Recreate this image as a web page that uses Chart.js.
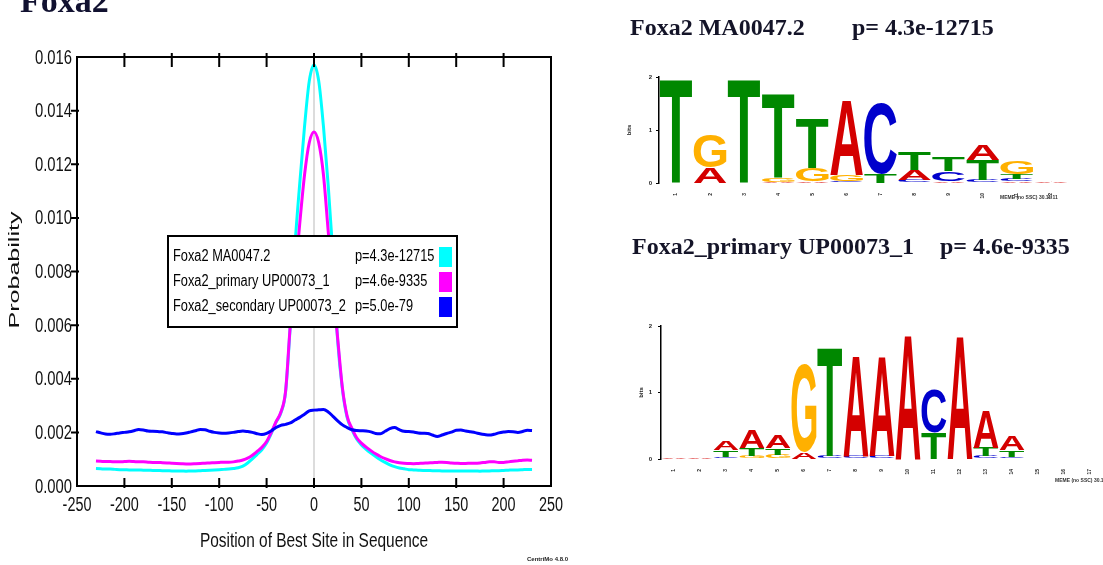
<!DOCTYPE html>
<html>
<head>
<meta charset="utf-8">
<title>Foxa2 - CentriMo site distribution</title>
<script src="https://cdn.jsdelivr.net/npm/chart.js@4.4.1/dist/chart.umd.min.js"></script>
<style>
  html, body { margin: 0; padding: 0; background: #fff; }
  body { width: 1103px; height: 565px; position: relative; overflow: hidden; }
  canvas { position: absolute; }
</style>
</head>
<body>
<canvas id="siteChart" width="600" height="565" style="left:0;top:0"></canvas>
<canvas id="logoJaspar" width="503" height="215" style="left:600px;top:0"></canvas>
<canvas id="logoUniprobe" width="503" height="290" style="left:600px;top:215px"></canvas>
<script>
// --- site probability curves (position of best site vs probability) ---
const positions = [-230,-225,-220,-215,-210,-205,-200,-195,-190,-185,-180,-175,-170,-165,-160,-155,-150,-145,-140,-135,-130,-125,-120,-115,-110,-105,-100,-95,-90,-85,-80,-75,
  -70,-65,-60,-55,-50,-45,-40,-35,-30,-25,-20,-15,-10,-5,0,5,10,15,20,25,30,35,40,45,50,55,60,65,70,75,80,85,90,95,100,
  105,110,115,120,125,130,135,140,145,150,155,160,165,170,175,180,185,190,195,200,205,210,215,220,225,230];

const ma0047 = [0.00065,0.00064,0.00063,0.00063,0.00062,0.00061,0.00061,0.00060,0.00060,0.00060,0.00059,0.00059,0.00058,0.00058,0.00057,0.00057,0.00056,0.00056,0.00056,0.00055,0.00056,0.00056,0.00057,0.00058,0.00059,0.00060,0.00061,0.00062,0.00063,0.00065,0.00068,0.00074,
  0.00086,0.00101,0.00118,0.00135,0.00160,0.00196,0.00238,0.00272,0.00350,0.00600,0.00900,0.01130,0.01340,0.01510,
  0.01570,
  0.01510,0.01340,0.01120,0.00860,0.00540,0.00360,0.00255,0.00210,0.00175,0.00153,0.00137,0.00123,0.00110,0.00098,0.00088,0.00079,0.00072,0.00067,0.00064,0.00061,
  0.00060,0.00059,0.00058,0.00058,0.00057,0.00057,0.00056,0.00056,0.00056,0.00056,0.00056,0.00056,0.00056,0.00056,0.00055,0.00056,0.00056,0.00057,0.00057,0.00058,0.00059,0.00060,0.00060,0.00061,0.00062,0.00062];

const up00073_1 = [0.00093,0.00092,0.00091,0.00091,0.00090,0.00090,0.00091,0.00092,0.00091,0.00090,0.00090,0.00089,0.00088,0.00088,0.00087,0.00086,0.00085,0.00084,0.00083,0.00082,0.00082,0.00083,0.00084,0.00085,0.00086,0.00087,0.00088,0.00089,0.00089,0.00090,0.00093,0.00097,
  0.00104,0.00115,0.00129,0.00144,0.00166,0.00200,0.00240,0.00275,0.00353,0.00600,0.00780,0.00980,0.01160,0.01280,
  0.01320,
  0.01280,0.01160,0.00950,0.00740,0.00550,0.00365,0.00260,0.00215,0.00180,0.00160,0.00145,0.00132,0.00120,0.00110,0.00102,0.00095,0.00090,0.00087,0.00085,0.00084,
  0.00083,0.00084,0.00085,0.00086,0.00087,0.00088,0.00089,0.00088,0.00086,0.00085,0.00084,0.00084,0.00085,0.00085,0.00086,0.00088,0.00090,0.00090,0.00088,0.00088,0.00090,0.00092,0.00094,0.00096,0.00097,0.00096];

const up00073_2 = [0.00203,0.00198,0.00194,0.00193,0.00195,0.00198,0.00200,0.00202,0.00206,0.00211,0.00209,0.00205,0.00204,0.00203,0.00202,0.00199,0.00196,0.00194,0.00195,0.00198,0.00202,0.00206,0.00211,0.00210,0.00204,0.00200,0.00198,0.00197,0.00198,0.00200,0.00203,0.00205,
  0.00203,0.00200,0.00195,0.00192,0.00196,0.00206,0.00218,0.00226,0.00230,0.00235,0.00246,0.00256,0.00268,0.00280,
  0.00283,
  0.00284,0.00285,0.00276,0.00260,0.00243,0.00228,0.00218,0.00210,0.00207,0.00206,0.00205,0.00202,0.00196,0.00195,0.00204,0.00214,0.00218,0.00210,0.00204,0.00203,
  0.00201,0.00198,0.00197,0.00196,0.00190,0.00185,0.00190,0.00196,0.00201,0.00208,0.00209,0.00205,0.00202,0.00199,0.00195,0.00192,0.00190,0.00193,0.00198,0.00201,0.00203,0.00202,0.00200,0.00203,0.00208,0.00207];

const seriesNames = ['Foxa2 MA0047.2', 'Foxa2_primary UP00073_1', 'Foxa2_secondary UP00073_2'];
const seriesPvals = ['p=4.3e-12715', 'p=4.6e-9335', 'p=5.0e-79'];
const seriesColors = ['#00ffff', '#ff00ff', '#0000ff'];
const xTickMarks = [-200, -150, -100, -50, 0, 50, 100, 150, 200];
const yTickMarks = [0.002, 0.004, 0.006, 0.008, 0.010, 0.012, 0.014];

// --- sequence logos: letters listed bottom -> top, with their heights in bits ---
const jasparPos = ['1','2','3','4','5','6','7','8','9','10','11','12'];
const jasparLetters = ['T','AG','T','AGT','AGT','CGA','TC','CAT','ACT','CTA','ACTG','A'];
const jasparBits = [[1.98],[0.30,0.63],[1.98],[0.02,0.07,1.60],[0.03,0.25,0.94],[0.03,0.12,1.42],[0.17,1.33],[0.05,0.19,0.35],[0.04,0.18,0.26],[0.05,0.38,0.28],[0.04,0.04,0.09,0.25],[0.02]];

const uniprobePos = ['1','2','3','4','5','6','7','8','9','10','11','12','13','14','15','16','17'];
const uniprobeLetters = ['A','A','CTA','GTA','GTA','AG','CT','CA','CA','A','TC','A','CTA','CTA','','',''];
const uniprobeBits = [[0.03],[0.03],[0.03,0.10,0.14],[0.04,0.12,0.27],[0.06,0.10,0.20],[0.10,1.32],[0.05,1.65],[0.05,1.52],[0.05,1.50],[1.89],[0.39,0.65],[1.87],[0.04,0.13,0.57],[0.03,0.10,0.21],[],[],[]];

const SANS = "'Liberation Sans', Arial, sans-serif";
const SERIF = "'Liberation Serif', 'Times New Roman', serif";
const letterColors = { A: '#d40000', C: '#0000cc', G: '#ffb000', T: '#008800' };

Chart.defaults.animation = false;
Chart.defaults.color = '#000';

// no narrow face installed, so squeeze Liberation Sans horizontally
function squeezeText(ctx, text, x, y, size, sx, align, baseline) {
  ctx.save();
  ctx.font = size + 'px ' + SANS;
  ctx.textAlign = align;
  ctx.textBaseline = baseline;
  ctx.translate(x, y);
  ctx.scale(sx, 1);
  ctx.fillText(text, 0, 0);
  ctx.restore();
}

// frame, inner ticks, tick labels, centre line, legend box and loose texts of the left panel
const sitePanel = {
  id: 'sitePanel',
  beforeDatasetsDraw(chart) {
    const { ctx, chartArea: a, scales: { x } } = chart;
    const x0 = x.getPixelForValue(0);
    ctx.save();
    ctx.strokeStyle = '#d0d0d0';
    ctx.lineWidth = 1.5;
    ctx.beginPath(); ctx.moveTo(x0, a.top); ctx.lineTo(x0, a.bottom); ctx.stroke();
    ctx.restore();
  },
  afterDatasetsDraw(chart) {
    const { ctx, chartArea: a, scales: { x, y } } = chart;
    ctx.save();
    ctx.strokeStyle = '#000';
    ctx.lineWidth = 2;
    ctx.strokeRect(a.left, a.top, a.right - a.left, a.bottom - a.top);
    ctx.beginPath();
    xTickMarks.forEach(v => {
      const px = x.getPixelForValue(v);
      ctx.moveTo(px, a.bottom + 2); ctx.lineTo(px, a.bottom - 8);
      ctx.moveTo(px, a.top - 4); ctx.lineTo(px, a.top + 10);
    });
    yTickMarks.forEach(v => {
      const py = y.getPixelForValue(v);
      ctx.moveTo(a.left - 6, py); ctx.lineTo(a.left + 2, py);
    });
    ctx.stroke();
    ctx.fillStyle = '#111';
    x.ticks.forEach((t, i) => squeezeText(ctx, String(t.value), x.getPixelForTick(i), a.bottom + 19, 20, 0.72, 'center', 'middle'));
    y.ticks.forEach((t, i) => squeezeText(ctx, t.value.toFixed(3), a.left - 5, y.getPixelForTick(i) + 1, 20, 0.74, 'right', 'middle'));
    squeezeText(ctx, 'Position of Best Site in Sequence', (a.left + a.right) / 2, 547, 21, 0.735, 'center', 'alphabetic');

    // legend
    ctx.fillStyle = '#fff';
    ctx.fillRect(168, 236, 289, 91);
    ctx.strokeRect(168, 236, 289, 91);
    seriesNames.forEach((name, i) => {
      const ry = 257 + 25 * i;
      ctx.fillStyle = '#000';
      squeezeText(ctx, name, 173, ry, 16, 0.8, 'left', 'middle');
      squeezeText(ctx, seriesPvals[i], 355, ry, 16, 0.8, 'left', 'middle');
      ctx.fillStyle = seriesColors[i];
      ctx.fillRect(439, ry - 10, 13, 20);
    });

    // y title, stretched along the axis like the original
    ctx.fillStyle = '#111';
    ctx.translate(19, 270);
    ctx.rotate(-Math.PI / 2);
    ctx.font = '14px ' + SANS;
    ctx.textAlign = 'center';
    const w = ctx.measureText('Probability').width;
    ctx.scale(117 / w, 1);
    ctx.fillText('Probability', 0, 0);
    ctx.restore();

    ctx.save();
    ctx.fillStyle = '#222';
    ctx.font = 'bold 6px ' + SANS;
    ctx.fillText('CentriMo 4.8.0', 527, 561);
    ctx.fillStyle = '#111130';
    ctx.font = 'bold 34px ' + SERIF;
    ctx.fillText('Foxa2', 20, 12);
    ctx.restore();
  }
};

new Chart(document.getElementById('siteChart'), {
  type: 'line',
  data: {
    datasets: [ma0047, up00073_1, up00073_2].map((vals, i) => ({
      label: seriesNames[i],
      data: positions.map((p, j) => ({ x: p, y: vals[j] })),
      borderColor: seriesColors[i],
      borderWidth: 3,
      pointRadius: 0,
      cubicInterpolationMode: 'monotone',
      order: 3 - i
    }))
  },
  options: {
    responsive: false,
    layout: { padding: { top: 57, right: 49, left: 0, bottom: 0 } },
    plugins: { legend: { display: false }, tooltip: { enabled: false } },
    scales: {
      x: {
        type: 'linear', min: -250, max: 250,
        ticks: { display: false, stepSize: 50 },
        grid: { display: false, drawTicks: false },
        border: { display: false },
        afterFit(s) { s.height = 79; }
      },
      y: {
        min: 0, max: 0.016,
        ticks: { display: false, stepSize: 0.002 },
        grid: { display: false, drawTicks: false },
        border: { display: false },
        afterFit(s) { s.width = 77; }
      }
    }
  },
  plugins: [sitePanel]
});

// draws each stacked bar as a letter stretched to fill it
function drawGlyph(ctx, ch, left, top, w, h) {
  ctx.save();
  ctx.font = 'bold 100px ' + SANS;
  const m = ctx.measureText(ch);
  const gw = m.actualBoundingBoxLeft + m.actualBoundingBoxRight;
  const gh = m.actualBoundingBoxAscent + m.actualBoundingBoxDescent;
  ctx.translate(left, top);
  ctx.scale(w / gw, h / gh);
  ctx.fillStyle = letterColors[ch];
  ctx.fillText(ch, m.actualBoundingBoxLeft, m.actualBoundingBoxAscent);
  ctx.restore();
}

const logoLetters = {
  id: 'logoLetters',
  afterDatasetsDraw(chart, args, opts) {
    const ctx = chart.ctx;
    chart.data.datasets.forEach((ds, k) => {
      chart.getDatasetMeta(k).data.forEach((bar, i) => {
        const ch = opts.letters[i][k];
        if (!ch) return;
        const { x, y, base, width } = bar.getProps(['x', 'y', 'base', 'width'], true);
        const h = Math.abs(base - y);
        if (h < 0.3) return;
        drawGlyph(ctx, ch, x - width / 2, Math.min(y, base), width, h);
      });
    });
    ctx.save();
    ctx.fillStyle = '#141428';
    ctx.font = 'bold 24px ' + SERIF;
    ctx.fillText(opts.title, opts.titleX, opts.titleY);
    ctx.fillText(opts.pval, opts.pvalX, opts.titleY);
    ctx.fillStyle = '#333';
    ctx.font = 'bold 5px ' + SANS;
    ctx.fillText(opts.caption, opts.capX, opts.capY);
    ctx.restore();
  }
};

function makeLogo(id, labels, letters, bits, geo) {
  const layers = Math.max(...bits.map(b => b.length));
  const datasets = [];
  for (let k = 0; k < layers; k++) {
    datasets.push({
      data: bits.map(b => b[k] || 0),
      backgroundColor: 'rgba(0,0,0,0)',
      borderWidth: 0,
      barPercentage: 0.96,
      categoryPercentage: 1
    });
  }
  return new Chart(document.getElementById(id), {
    type: 'bar',
    data: { labels: labels, datasets: datasets },
    options: {
      responsive: false,
      layout: { padding: { top: geo.top, right: geo.right, left: 0, bottom: 0 } },
      plugins: {
        legend: { display: false },
        tooltip: { enabled: false },
        logoLetters: geo.text
      },
      scales: {
        x: {
          stacked: true,
          ticks: { autoSkip: false, minRotation: 90, maxRotation: 90, padding: 2, font: { family: SANS, size: 5, weight: 'bold' }, color: '#222' },
          grid: { display: false },
          border: { display: false },
          afterFit(s) { s.height = geo.xh; }
        },
        y: {
          stacked: true, min: 0, max: 2,
          ticks: { stepSize: 1, padding: geo.tp, font: { family: SANS, size: 6, weight: 'bold' }, color: '#222' },
          grid: { display: true, drawOnChartArea: false, drawTicks: true, tickLength: 3, color: '#000' },
          border: { display: true, color: '#000', width: 1.5 },
          title: { display: true, text: 'bits', font: { family: SANS, size: 6, weight: 'bold' }, color: '#222', padding: { top: geo.bt, bottom: 0 } },
          afterFit(s) { s.width = geo.yw; }
        }
      }
    },
    plugins: [logoLetters]
  });
}

makeLogo('logoJaspar', jasparPos, jasparLetters, jasparBits, {
  top: 77, right: 35, xh: 32, yw: 59, tp: 4, bt: 26,
  text: { letters: jasparLetters, title: 'Foxa2 MA0047.2', pval: 'p= 4.3e-12715', titleX: 30, pvalX: 252, titleY: 35,
          caption: 'MEME (no SSC) 30.11.11', capX: 400, capY: 199 }
});

makeLogo('logoUniprobe', uniprobePos, uniprobeLetters, uniprobeBits, {
  top: 111, right: 0, xh: 46, yw: 61, tp: 6, bt: 38,
  text: { letters: uniprobeLetters, title: 'Foxa2_primary UP00073_1', pval: 'p= 4.6e-9335', titleX: 32, pvalX: 340, titleY: 39,
          caption: 'MEME (no SSC) 30.11.11', capX: 455, capY: 267 }
});
</script>
</body>
</html>
